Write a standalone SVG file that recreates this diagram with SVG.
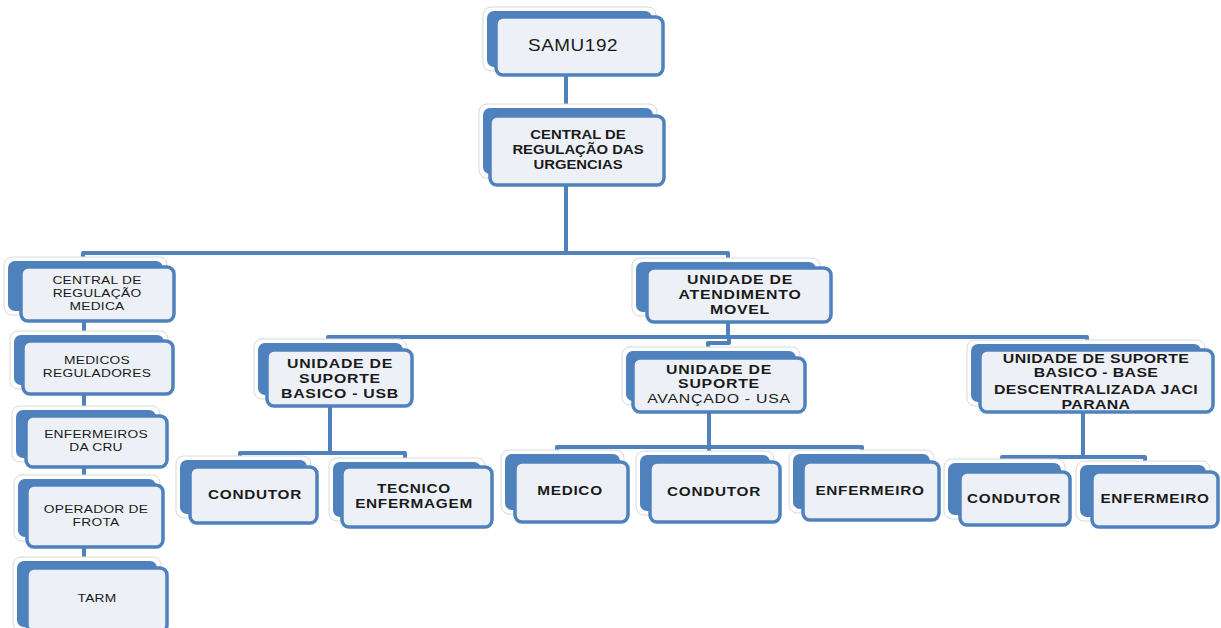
<svg xmlns="http://www.w3.org/2000/svg" width="1221" height="628" viewBox="0 0 1221 628">
<style>
.halo{fill:#ffffff;stroke:#d6d9de;stroke-width:1}
.back{fill:#4F81BD}
.front{fill:#EDF1F7;stroke:#4F81BD;stroke-width:3.5}
.conn path{fill:none;stroke:#4F81BD;stroke-width:4;stroke-linejoin:round;stroke-linecap:butt}
text{fill:#1a1a1a;text-anchor:middle;font-family:"Liberation Sans",Arial,sans-serif}
.t{font-size:13px;font-weight:bold;letter-spacing:0.6px}
.tj{font-size:13px;font-weight:bold;letter-spacing:0.3px}
.leaf{font-size:13px;font-weight:bold;letter-spacing:0.6px}
.side{font-size:11.3px;letter-spacing:0.2px}
.top{font-size:16px;letter-spacing:0.5px}
.cu{font-size:12.5px;font-weight:bold}
</style>
<rect width="1221" height="628" fill="#ffffff"/>
<g id="connectors" class="conn">
<path d="M566 74 V112"/>
<path d="M566 184 V253"/>
<path d="M83 262 V253 H728 V265"/>
<path d="M84 318 V572"/>
<path d="M728 320 V337"/>
<path d="M328 346 V337 H1087 V347"/>
<path d="M729 337 V343 H708 V353"/>
<path d="M330 404 V453"/>
<path d="M240 462 V453 H405 V464"/>
<path d="M709 410 V447"/>
<path d="M557 456 V447 H862 V455"/>
<path d="M709 447 V458"/>
<path d="M1083 410 V457"/>
<path d="M1002 466 V457 H1145 V468"/>
</g>
<g id="n-samu">
<rect class="halo" x="483" y="7" width="173" height="64" rx="8"/>
<rect class="back" x="487" y="11" width="165" height="56" rx="7"/>
<rect class="front" x="496" y="17" width="167" height="58" rx="7"/>
<text class="top" transform="matrix(1.18 0 0 1 573 0)" x="0" y="51">SAMU192</text>
</g>
<g id="n-central-urgencias">
<rect class="halo" x="479" y="104" width="178" height="74" rx="8"/>
<rect class="back" x="483" y="108" width="170" height="66" rx="7"/>
<rect class="front" x="490" y="116" width="174" height="69" rx="7"/>
<text class="cu" transform="matrix(1.19 0 0 1 578 0)"><tspan x="0" y="139">CENTRAL DE</tspan><tspan x="0" y="154">REGULAÇÃO DAS</tspan><tspan x="0" y="169">URGENCIAS</tspan></text>
</g>
<g id="n-central-medica">
<rect class="halo" x="4" y="257" width="163" height="58" rx="8"/>
<rect class="back" x="8" y="261" width="155" height="50" rx="7"/>
<rect class="front" x="21" y="267" width="153" height="54" rx="7"/>
<text class="side" transform="matrix(1.22 0 0 1 97 0)"><tspan x="0" y="284">CENTRAL DE</tspan><tspan x="0" y="297">REGULAÇÃO</tspan><tspan x="0" y="310">MEDICA</tspan></text>
</g>
<g id="n-medicos">
<rect class="halo" x="10" y="331" width="158" height="58" rx="8"/>
<rect class="back" x="14" y="335" width="150" height="50" rx="7"/>
<rect class="front" x="23" y="341" width="150" height="53" rx="7"/>
<text class="side" transform="matrix(1.22 0 0 1 97 0)"><tspan x="0" y="364">MEDICOS</tspan><tspan x="0" y="377">REGULADORES</tspan></text>
</g>
<g id="n-enfermeiros-cru">
<rect class="halo" x="12" y="406" width="148" height="56" rx="8"/>
<rect class="back" x="16" y="410" width="140" height="48" rx="7"/>
<rect class="front" x="26" y="416" width="141" height="51" rx="7"/>
<text class="side" transform="matrix(1.22 0 0 1 96 0)"><tspan x="0" y="438">ENFERMEIROS</tspan><tspan x="0" y="451">DA CRU</tspan></text>
</g>
<g id="n-operador">
<rect class="halo" x="14" y="475" width="146" height="66" rx="8"/>
<rect class="back" x="18" y="479" width="138" height="58" rx="7"/>
<rect class="front" x="27" y="485" width="136" height="62" rx="7"/>
<text class="side" transform="matrix(1.22 0 0 1 96 0)"><tspan x="0" y="513">OPERADOR DE</tspan><tspan x="0" y="526">FROTA</tspan></text>
</g>
<g id="n-tarm">
<rect class="halo" x="13" y="557" width="148" height="74" rx="8"/>
<rect class="back" x="17" y="561" width="140" height="66" rx="7"/>
<rect class="front" x="27" y="568" width="140" height="64" rx="7"/>
<text class="side" transform="matrix(1.22 0 0 1 97 0)" x="0" y="602">TARM</text>
</g>
<g id="n-uam">
<rect class="halo" x="632" y="258" width="188" height="58" rx="8"/>
<rect class="back" x="636" y="262" width="180" height="50" rx="7"/>
<rect class="front" x="647" y="268" width="184" height="54" rx="7"/>
<text class="t" transform="matrix(1.22 0 0 1 740 0)"><tspan x="0" y="284">UNIDADE DE</tspan><tspan x="0" y="299">ATENDIMENTO</tspan><tspan x="0" y="314">MOVEL</tspan></text>
</g>
<g id="n-usb">
<rect class="halo" x="254" y="339" width="153" height="60" rx="8"/>
<rect class="back" x="258" y="343" width="145" height="52" rx="7"/>
<rect class="front" x="267" y="350" width="145" height="56" rx="7"/>
<text class="t" transform="matrix(1.22 0 0 1 340 0)"><tspan x="0" y="368">UNIDADE DE</tspan><tspan x="0" y="383">SUPORTE</tspan><tspan x="0" y="398">BASICO - USB</tspan></text>
</g>
<g id="n-usa">
<rect class="halo" x="622" y="347" width="178" height="58" rx="8"/>
<rect class="back" x="626" y="351" width="170" height="50" rx="7"/>
<rect class="front" x="633" y="358" width="172" height="54" rx="7"/>
<text class="t" transform="matrix(1.22 0 0 1 719 0)"><tspan x="0" y="374">UNIDADE DE</tspan><tspan x="0" y="388">SUPORTE</tspan><tspan x="0" y="403" font-weight="normal">AVANÇADO - USA</tspan></text>
</g>
<g id="n-usb-jaci">
<rect class="halo" x="967" y="340" width="238" height="66" rx="8"/>
<rect class="back" x="971" y="344" width="230" height="58" rx="7"/>
<rect class="front" x="980" y="350" width="233" height="62" rx="7"/>
<text class="tj" transform="matrix(1.22 0 0 1 1096 0)"><tspan x="0" y="363">UNIDADE DE SUPORTE</tspan><tspan x="0" y="377">BASICO - BASE</tspan><tspan x="0" y="394">DESCENTRALIZADA JACI</tspan><tspan x="0" y="409">PARANA</tspan></text>
</g>
<g id="n-usb-condutor">
<rect class="halo" x="176" y="456" width="135" height="62" rx="8"/>
<rect class="back" x="180" y="460" width="127" height="54" rx="7"/>
<rect class="front" x="190" y="467" width="127" height="56" rx="7"/>
<text class="leaf" transform="matrix(1.18 0 0 1 255 0)" x="0" y="499">CONDUTOR</text>
</g>
<g id="n-usb-tecnico">
<rect class="halo" x="329" y="458" width="156" height="63" rx="8"/>
<rect class="back" x="333" y="462" width="148" height="55" rx="7"/>
<rect class="front" x="342" y="467" width="150" height="60" rx="7"/>
<text class="leaf" transform="matrix(1.18 0 0 1 414 0)"><tspan x="0" y="493">TECNICO</tspan><tspan x="0" y="508">ENFERMAGEM</tspan></text>
</g>
<g id="n-usa-medico">
<rect class="halo" x="501" y="450" width="123" height="64" rx="8"/>
<rect class="back" x="505" y="454" width="115" height="56" rx="7"/>
<rect class="front" x="515" y="462" width="113" height="60" rx="7"/>
<text class="leaf" transform="matrix(1.18 0 0 1 570 0)" x="0" y="495">MEDICO</text>
</g>
<g id="n-usa-condutor">
<rect class="halo" x="636" y="451" width="138" height="64" rx="8"/>
<rect class="back" x="640" y="455" width="130" height="56" rx="7"/>
<rect class="front" x="650" y="462" width="130" height="60" rx="7"/>
<text class="leaf" transform="matrix(1.18 0 0 1 714 0)" x="0" y="496">CONDUTOR</text>
</g>
<g id="n-usa-enfermeiro">
<rect class="halo" x="789" y="450" width="145" height="63" rx="8"/>
<rect class="back" x="793" y="454" width="137" height="55" rx="7"/>
<rect class="front" x="803" y="462" width="136" height="58" rx="7"/>
<text class="leaf" transform="matrix(1.18 0 0 1 870 0)" x="0" y="495">ENFERMEIRO</text>
</g>
<g id="n-jaci-condutor">
<rect class="halo" x="944" y="459" width="121" height="60" rx="8"/>
<rect class="back" x="948" y="463" width="113" height="52" rx="7"/>
<rect class="front" x="960" y="472" width="110" height="53" rx="7"/>
<text class="leaf" transform="matrix(1.18 0 0 1 1014 0)" x="0" y="503">CONDUTOR</text>
</g>
<g id="n-jaci-enfermeiro">
<rect class="halo" x="1076" y="461" width="134" height="60" rx="8"/>
<rect class="back" x="1080" y="465" width="126" height="52" rx="7"/>
<rect class="front" x="1092" y="472" width="126" height="55" rx="7"/>
<text class="leaf" transform="matrix(1.18 0 0 1 1155 0)" x="0" y="503">ENFERMEIRO</text>
</g>
</svg>
